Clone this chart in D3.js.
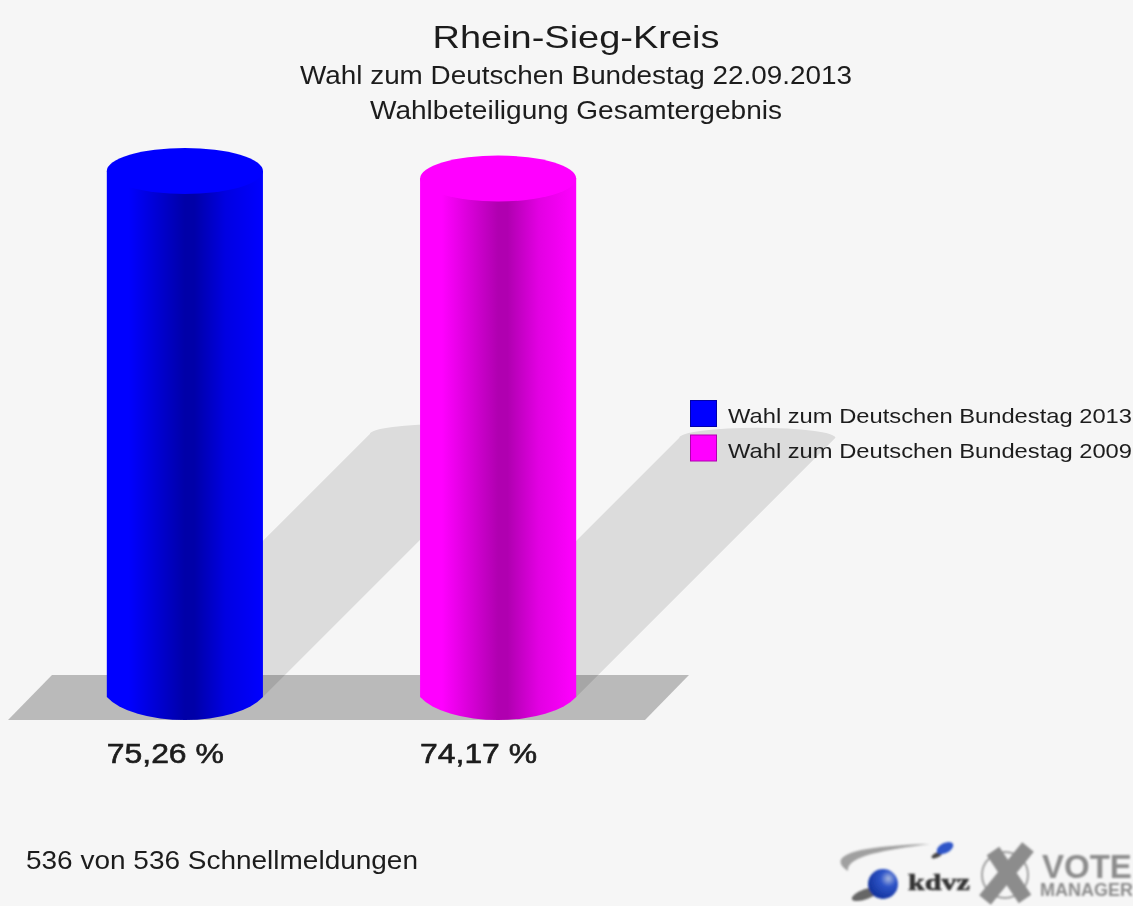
<!DOCTYPE html>
<html>
<head>
<meta charset="utf-8">
<title>Rhein-Sieg-Kreis</title>
<script src="https://cdn.jsdelivr.net/npm/d3@7/dist/d3.min.js"></script>
<style>
  html, body { margin: 0; padding: 0; background: #f6f6f6; overflow: hidden; }
  svg { display: block; }
  text { font-family: "Liberation Sans", Arial, sans-serif; fill: #1c1c1c; }
</style>
</head>
<body>
<svg id="chart"></svg>
<script>
// Data
const titleLines = ['Rhein-Sieg-Kreis', 'Wahl zum Deutschen Bundestag 22.09.2013', 'Wahlbeteiligung Gesamtergebnis'];
const categories = ['Wahl zum Deutschen Bundestag 2013', 'Wahl zum Deutschen Bundestag 2009'];
const values = [75.26, 74.17];
const valueLabels = ['75,26 %', '74,17 %'];
const colors = ['#0000ff', '#ff00ff'];
const darkColors = ['#0000a8', '#b000b0'];
const midColors = ['#0000e2', '#e200e2'];
const footer = '536 von 536 Schnellmeldungen';

const width = 1133;
const height = 906;

// The reference text is stretched sideways, so widths are set per text
const titleWidths = [287, 552, 412];
const legendWidth = 404;
const valueWidth = 117;
const footerWidth = 392;

const svg = d3.select('#chart')
  .attr('width', width)
  .attr('height', height);

const defs = svg.append('defs');

// The reference is an upscaled bitmap, so everything is a little soft
const addBlur = (id, amount) => defs.append('filter').attr('id', id)
  .attr('filterUnits', 'userSpaceOnUse')
  .attr('x', 0).attr('y', 0)
  .attr('width', width).attr('height', height)
  .append('feGaussianBlur').attr('stdDeviation', amount);
addBlur('soft', 0.6);
addBlur('softer', 0.8);

const ballGradient = defs.append('radialGradient')
  .attr('id', 'ball').attr('cx', '68%').attr('cy', '32%').attr('r', '75%');
ballGradient.append('stop').attr('offset', '0%').attr('stop-color', '#a8b8e0');
ballGradient.append('stop').attr('offset', '35%').attr('stop-color', '#2f55c8');
ballGradient.append('stop').attr('offset', '100%').attr('stop-color', '#10309a');

categories.forEach((c, i) => {
  const g = defs.append('linearGradient').attr('id', `side${i}`);
  g.append('stop').attr('offset', '0%').attr('stop-color', colors[i]);
  g.append('stop').attr('offset', '14%').attr('stop-color', colors[i]);
  g.append('stop').attr('offset', '50%').attr('stop-color', darkColors[i]);
  g.append('stop').attr('offset', '56%').attr('stop-color', darkColors[i]);
  g.append('stop').attr('offset', '76%').attr('stop-color', midColors[i]);
  g.append('stop').attr('offset', '100%').attr('stop-color', colors[i]);
});

// Scales
const xScale = d3.scaleBand()
  .domain(categories)
  .range([28.5, 654.5])
  .paddingInner(0.5016)
  .paddingOuter(0.25);

const yScale = d3.scaleLinear()
  .domain([0, 100])
  .range([697, -2]);

const capSag = 23;
const bottomRx = 84;
const bottomRy = 36.6; // gives capSag over the bar width, with the pointed corners
const shadowRy = 10;
const shadowLength = 0.5;
const rows = categories.map((c, i) => ({ c, i, value: values[i], label: valueLabels[i] }));

const root = svg.append('g').attr('filter', 'url(#soft)');

// Floor
const floorY = yScale(0);
root.append('path')
  .attr('d', `M8,${floorY + capSag} L645,${floorY + capSag} L689,${floorY - 22} L52,${floorY - 22} Z`)
  .attr('fill', '#bababa');

// Shadows, sheared up to the right
root.append('g').selectAll('path')
  .data(rows)
  .join('path')
  .attr('fill', '#000')
  .attr('fill-opacity', 0.105)
  .attr('d', d => {
    const x0 = xScale(d.c);
    const w = xScale.bandwidth();
    const rise = (floorY - yScale(d.value)) * shadowLength;
    const top = floorY - rise;
    return `M${x0},${floorY} L${x0 + rise},${top} A${w / 2},${shadowRy} 0 0 1 ${x0 + w + rise},${top} L${x0 + w},${floorY} Z`;
  });

// Cylinders
const bars = root.append('g').selectAll('g')
  .data(rows)
  .join('g');

bars.append('path')
  .attr('fill', d => `url(#side${d.i})`)
  .attr('d', d => {
    const x0 = xScale(d.c);
    const w = xScale.bandwidth();
    const top = yScale(d.value);
    return `M${x0},${top} L${x0},${floorY} A${bottomRx},${bottomRy} 0 0 0 ${x0 + w},${floorY} L${x0 + w},${top} Z`;
  });

bars.append('ellipse')
  .attr('cx', d => xScale(d.c) + xScale.bandwidth() / 2)
  .attr('cy', d => yScale(d.value))
  .attr('rx', xScale.bandwidth() / 2)
  .attr('ry', capSag)
  .attr('fill', d => colors[d.i]);

// Value labels
root.append('g').selectAll('text')
  .data(rows)
  .join('text')
  .attr('x', d => xScale(d.c))
  .attr('y', 763)
  .attr('font-size', 28)
  .attr('textLength', valueWidth)
  .attr('lengthAdjust', 'spacingAndGlyphs')
  .attr('stroke', '#1c1c1c')
  .attr('stroke-width', 0.6)
  .text(d => d.label);

// Titles
root.append('g').selectAll('text')
  .data(titleLines)
  .join('text')
  .attr('x', 576)
  .attr('y', (d, i) => [48, 84, 119][i])
  .attr('text-anchor', 'middle')
  .attr('font-size', (d, i) => (i === 0 ? 32 : 25))
  .attr('textLength', (d, i) => titleWidths[i])
  .attr('lengthAdjust', 'spacingAndGlyphs')
  .text(d => d);

// Legend
const legend = root.append('g').selectAll('g')
  .data(rows)
  .join('g')
  .attr('transform', d => `translate(690,${400 + d.i * 34.5})`);

legend.append('rect')
  .attr('x', 0.5)
  .attr('y', 0.5)
  .attr('width', 26)
  .attr('height', 26)
  .attr('fill', d => colors[d.i])
  .attr('stroke', d => darkColors[d.i]);

legend.append('text')
  .attr('x', 38)
  .attr('y', 23)
  .attr('font-size', 21)
  .attr('textLength', legendWidth)
  .attr('lengthAdjust', 'spacingAndGlyphs')
  .text(d => d.c);

// Footer
root.append('text')
  .attr('x', 26)
  .attr('y', 869)
  .attr('font-size', 25)
  .attr('textLength', footerWidth)
  .attr('lengthAdjust', 'spacingAndGlyphs')
  .text(footer);

// Logos
const logo = root.append('g').attr('filter', 'url(#softer)');

logo.append('path')
  .attr('d', 'M848,871 C828,858 846,846 930,844 C885,850 846,856 848,871 Z')
  .attr('fill', '#a0a0a0');
logo.append('ellipse')
  .attr('cx', 937).attr('cy', 855).attr('rx', 6).attr('ry', 2.5)
  .attr('transform', 'rotate(-25 937 855)')
  .attr('fill', '#444');
logo.append('ellipse')
  .attr('cx', 945).attr('cy', 848).attr('rx', 9).attr('ry', 5)
  .attr('transform', 'rotate(-28 945 848)')
  .attr('fill', '#2f55c8');
logo.append('ellipse')
  .attr('cx', 866).attr('cy', 894).attr('rx', 15).attr('ry', 5)
  .attr('transform', 'rotate(-20 866 894)')
  .attr('fill', '#666');
logo.append('circle')
  .attr('cx', 883).attr('cy', 884).attr('r', 15)
  .attr('fill', 'url(#ball)');
logo.append('text')
  .attr('x', 908).attr('y', 890)
  .attr('font-weight', 'bold')
  .attr('font-size', 24)
  .attr('textLength', 62)
  .attr('lengthAdjust', 'spacingAndGlyphs')
  .attr('stroke', '#333')
  .attr('stroke-width', 0.6)
  .style('font-family', '"Liberation Serif", serif')
  .style('fill', '#333')
  .text('kdvz');

logo.append('circle')
  .attr('cx', 1005).attr('cy', 875).attr('r', 23)
  .attr('fill', 'none')
  .attr('stroke', '#a0a0a0')
  .attr('stroke-width', 2);
logo.append('path')
  .attr('d', 'M993,851 L1025,899 M1028,847 L985,900')
  .attr('fill', 'none')
  .attr('stroke', '#8c8c8c')
  .attr('stroke-width', 15);

logo.append('text')
  .attr('x', 1042).attr('y', 878)
  .attr('font-weight', 'bold')
  .attr('font-size', 33)
  .style('fill', '#8c8c8c')
  .text('VOTE');
logo.append('text')
  .attr('x', 1040).attr('y', 896)
  .attr('font-weight', 'bold')
  .attr('font-size', 18)
  .style('fill', '#8c8c8c')
  .text('MANAGER');
</script>
</body>
</html>
